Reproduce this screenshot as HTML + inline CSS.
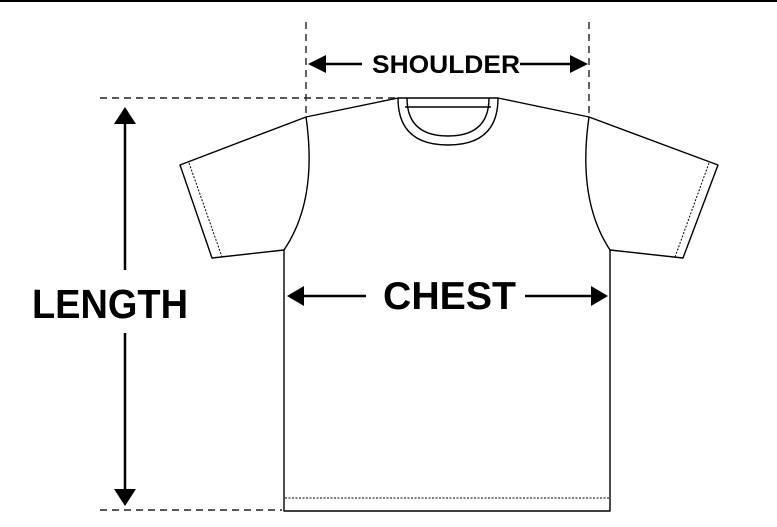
<!DOCTYPE html>
<html><head><style>
html,body{margin:0;padding:0;background:#fff;}
svg{display:block;}
text{font-family:"Liberation Sans",sans-serif;font-weight:bold;fill:#000;}
</style></head><body>
<svg width="777" height="527" viewBox="0 0 777 527">
<line x1="0" y1="1" x2="777" y2="1" stroke="#000" stroke-width="2"/>
<g stroke="#222" stroke-width="1.4" stroke-dasharray="7,5" fill="none">
<line x1="306" y1="22" x2="306" y2="117"/>
<line x1="589" y1="22" x2="589" y2="117"/>
<line x1="100" y1="98" x2="398" y2="98"/>
<line x1="100" y1="510" x2="282" y2="510"/>
</g>
<g stroke="#000" stroke-width="1.4" fill="none" stroke-linejoin="round">
<path d="M398,98 L306,117 L180,165 L212,258 L284,250 L284,511 L610,511 L610,250 L683,258 L718,165 L589,117 L498,98 Z"/>
<path d="M306,117 Q318,200 284,250"/>
<path d="M589,117 Q577,200 610,250"/>
<path d="M398,98 Q398,145 448,145 Q498,145 498,98"/>
<path d="M407,98 Q407,136 448,136 Q489,136 489,98"/>
<line x1="405" y1="107" x2="491" y2="107"/>
</g>
<g stroke="#000" stroke-width="1" stroke-dasharray="2,1.5" fill="none">
<line x1="189" y1="163" x2="222" y2="257"/>
<line x1="709" y1="163" x2="675" y2="257"/>
<line x1="285" y1="498" x2="609" y2="498"/>
</g>
<g stroke="#000" stroke-width="2.5">
<line x1="318" y1="64" x2="362" y2="64"/>
<line x1="520" y1="64" x2="575" y2="64"/>
<line x1="300" y1="296" x2="366" y2="296"/>
<line x1="525" y1="296" x2="594" y2="296"/>
<line x1="125" y1="118" x2="125" y2="270"/>
<line x1="125" y1="333" x2="125" y2="494"/>
</g>
<g fill="#000">
<polygon points="308,64 326,55 326,73"/>
<polygon points="588,64 570,55 570,73"/>
<polygon points="287,296 304,286 304,306"/>
<polygon points="608,296 591,286 591,306"/>
<polygon points="125,107 114,124 136,124"/>
<polygon points="125,506 114,489 136,489"/>
</g>
<text x="372" y="73" font-size="25" textLength="148" lengthAdjust="spacingAndGlyphs">SHOULDER</text>
<text x="383" y="309" font-size="39" textLength="133" lengthAdjust="spacingAndGlyphs">CHEST</text>
<text x="32" y="318" font-size="41" textLength="156" lengthAdjust="spacingAndGlyphs">LENGTH</text>
</svg>
</body></html>
